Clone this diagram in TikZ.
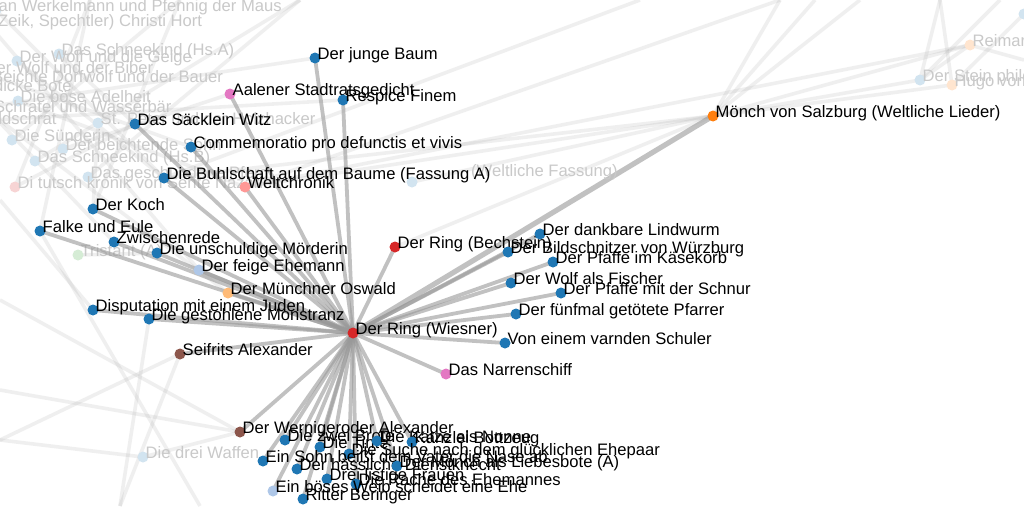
\documentclass[tikz,border=0pt]{standalone}
\usepackage{fontspec}
\setmainfont{Liberation Sans}
\begin{document}
% d3 category palette
\definecolor{cblue}{HTML}{1F77B4}
\definecolor{clblue}{HTML}{AEC7E8}
\definecolor{corange}{HTML}{FF7F0E}
\definecolor{clorange}{HTML}{FFBB78}
\definecolor{cred}{HTML}{D62728}
\definecolor{csalmon}{HTML}{FF9896}
\definecolor{cpink}{HTML}{E377C2}
\definecolor{cbrown}{HTML}{8C564B}
\definecolor{cgreen}{HTML}{2CA02C}
\definecolor{cedge}{HTML}{999999}
\pgfdeclarelayer{paper}
\pgfdeclarelayer{fadeedges}
\pgfdeclarelayer{fadenodes}
\pgfdeclarelayer{edges}
\pgfsetlayers{paper,fadeedges,fadenodes,edges,main}
\tikzset{
  dot/.style={circle,inner sep=0pt,minimum size=11pt,draw=none},
  gdot/.style={circle,inner sep=0pt,minimum size=11pt,draw=none},
  lbl/.style={anchor=base west,inner sep=0pt,font=\fontsize{16.6}{18}\selectfont,text=black},
  glbl/.style={anchor=base west,inner sep=0pt,font=\fontsize{16.6}{18}\selectfont,text=black!21},
  link/.style={draw=cedge,line width=3.8pt,opacity=0.6},
  biglink/.style={draw=cedge,line width=5.2pt,opacity=0.6},
  ghostlink/.style={draw=cedge,line width=3.6pt,opacity=0.15},
}
% a work: name, x, y, colour, title
\newcommand\work[5]{%
  \node[dot,fill=#4] (#1) at (#2,#3) {};
  \node[lbl] (#1-t) at (#2+2.5,#3+1) {#5};}
% a dimmed work
\newcommand\ghost[5]{%
  \begin{pgfonlayer}{fadenodes}
  \node[gdot,fill=#4!20] (#1) at (#2,#3) {};
  \node[glbl] (#1-t) at (#2+2.5,#3+1) {#5};
  \end{pgfonlayer}}
\begin{tikzpicture}[x=1pt,y=-1pt]
\useasboundingbox (0,0) rectangle (1024,506);
\begin{pgfonlayer}{paper}
\fill[white] (0,0) rectangle (1024,506);
\end{pgfonlayer}

% ---- dimmed works ----
\ghost{g01}{-4}{10}{cblue}{an Werkelmann und Pfennig der Maus}
\ghost{g02}{-10}{26}{cblue}{(Zeik, Spechtler) Christi Hort}
\ghost{g03}{59}{54}{cblue}{Das Schneekind (Hs.A)}
\ghost{g04}{17}{61}{cblue}{Der Wolf und die Geige}
\ghost{g05}{-18}{72}{cblue}{Der Wolf und der Biber}
\ghost{g06}{-40}{81}{cblue}{Die Beichte Dorfwolf und der Bauer}
\ghost{g07}{-40}{90}{cblue}{Der dicke Bote}
\ghost{g08}{18}{101}{cblue}{Die böse Adelheit}
\ghost{g09}{-40}{111}{cblue}{Der Schratel und Wasserbär}
\ghost{g10}{-60}{123}{cblue}{Der Waldschrat}
\ghost{g11}{98}{123}{cblue}{St. Peter und der Holzhacker}
\ghost{g12}{12}{140}{cblue}{Die Sünderin}
\ghost{g13}{63}{149}{cblue}{Der beichtende Sohn}
\ghost{g14}{35}{161}{cblue}{Das Schneekind (Hs.B)}
\ghost{g15}{88}{177}{cblue}{Das geschundene Pferd}
\ghost{g16}{15}{187}{cred}{Di tutsch kronik von Sente Nazarius}
\ghost{g17}{78}{255}{cgreen}{Tristant (A)}
\ghost{g18}{412}{182}{cblue}{}
\node[glbl] at (471,176) {(Weltliche Fassung)};
\ghost{g19}{143}{457}{cblue}{Die drei Waffen}
\ghost{g20}{970}{45}{corange}{Reimar}
\ghost{g21}{920}{80}{cblue}{Der Stein philosophorum}
\ghost{g22}{952}{85}{corange}{Hugo von Montfort}
\ghost{g23}{1024}{14}{cblue}{}

% ---- works ----
\work{jb}{315}{58}{cblue}{Der junge Baum}
\work{aal}{230}{94}{cpink}{Aalener Stadtratsgedicht}
\work{resp}{343}{100}{cblue}{Respice Finem}
\work{sack}{135}{124}{cblue}{Das Säcklein Witz}
\work{comm}{191}{147}{cblue}{Commemoratio pro defunctis et vivis}
\work{buhl}{164}{178}{cblue}{Die Buhlschaft auf dem Baume (Fassung A)}
\work{welt}{245}{187}{csalmon}{Weltchronik}
\work{koch}{93}{209}{cblue}{Der Koch}
\work{falke}{40}{231}{cblue}{Falke und Eule}
\work{zw}{114}{242}{cblue}{Zwischenrede}
\work{mord}{157}{253}{cblue}{Die unschuldige Mörderin}
\work{feig}{199}{270}{clblue}{Der feige Ehemann}
\work{osw}{228}{293}{clorange}{Der Münchner Oswald}
\work{disp}{93}{310}{cblue}{Disputation mit einem Juden}
\work{mon}{149}{319}{cblue}{Die gestohlene Monstranz}
\work{seif}{180}{354}{cbrown}{Seifrits Alexander}
\work{bech}{395}{247}{cred}{Der Ring (Bechstein)}
\work{lind}{540}{234}{cblue}{Der dankbare Lindwurm}
\work{bild}{508}{252}{cblue}{Der Bildschnitzer von Würzburg}
\work{kase}{553}{262}{cblue}{Der Pfaffe im Käsekorb}
\work{wolf}{511}{283}{cblue}{Der Wolf als Fischer}
\work{schn}{561}{293}{cblue}{Der Pfaffe mit der Schnur}
\work{funf}{516}{314}{cblue}{Der fünfmal getötete Pfarrer}
\work{varn}{505}{343}{cblue}{Von einem varnden Schuler}
\work{narr}{446}{374}{cpink}{Das Narrenschiff}
\work{monch}{713}{116}{corange}{Mönch von Salzburg (Weltliche Lieder)}
\work{wern}{240}{432}{cbrown}{Der Wernigeroder Alexander}
\work{brote}{285}{440}{cblue}{Die zwei Brote}
\work{tinte}{320}{447}{cblue}{Die Tinte}
\work{katze}{377}{441}{cblue}{Die Katze als Nonne}
\work{bott}{412}{442}{cblue}{Kanzlei Bottzeug}
\work{suche}{349}{454}{cblue}{Die Suche nach dem glücklichen Ehepaar}
\work{sohn}{263}{461}{cblue}{Ein Sohn beißt dem Vater die Nase ab}
\work{hass}{297}{469}{cblue}{Der hässliche Dienstknecht}
\work{lieb}{397}{466}{cblue}{Der Mönch als Liebesbote (A)}
\work{drei}{327}{479}{cblue}{Drei listige Frauen}
\work{rache}{356}{484}{cblue}{Die Rache des Ehemannes}
\work{weib}{273}{491}{clblue}{Ein böses Weib scheidet eine Ehe}
\work{ritter}{303}{499}{cblue}{Ritter Beringer}
\work{wies}{353}{333}{cred}{Der Ring (Wiesner)}

% ---- links of Der Ring (Wiesner) ----
\begin{pgfonlayer}{edges}
\foreach \n in {jb,aal,resp,sack,comm,buhl,welt,koch,falke,zw,mord,feig,osw,disp,mon,seif,
  bech,lind,bild,kase,wolf,schn,funf,varn,narr,wern,brote,tinte,katze,bott,suche,sohn,
  hass,lieb,drei,rache,weib,ritter}
  \draw[link] (wies.center) -- (\n.center);
\draw[biglink] (wies.center) -- (monch.center);
\end{pgfonlayer}

% ---- dimmed links ----
\begin{pgfonlayer}{fadeedges}
\coordinate (t1) at (780,0);
\coordinate (t2) at (815,0);
\coordinate (t3) at (860,0);
\coordinate (t4) at (940,0);
\coordinate (t5) at (1000,0);
\coordinate (t6) at (640,0);
\coordinate (t7) at (1024,60);
\coordinate (l1) at (0,300);
\coordinate (l2) at (0,390);
\coordinate (l3) at (0,200);
\coordinate (l4) at (0,440);
\coordinate (b1) at (120,506);
\coordinate (b2) at (200,506);
\coordinate (u1) at (300,0);
\coordinate (u2) at (180,0);
\coordinate (u3) at (90,0);
\foreach \a/\b in {monch/t1,monch/t2,monch/t3,monch/g20,monch/g21,monch/g22,monch/welt,monch/buhl,
  monch/g18,monch/bech,g21/t4,g22/t4,g21/t5,g22/g23,g20/g21,g20/t7,welt/g20,welt/t1,buhl/t6,
  wern/g19,wern/l2,wern/l1,seif/l4,seif/b1,g19/l4,disp/l3,falke/b2,mon/b1,
  g03/sack,g04/buhl,g05/comm,g08/welt,g11/koch,g13/aal,g14/u1,g12/u2,g09/jb,g06/zw,g16/u3,
  g02/feig,g07/osw,g10/resp,g15/u1,g17/mord,g01/buhl,koch/u2,sack/g16,falke/u3}
  \draw[ghostlink] (\a.center) -- (\b.center);
\end{pgfonlayer}
\end{tikzpicture}
\end{document}
